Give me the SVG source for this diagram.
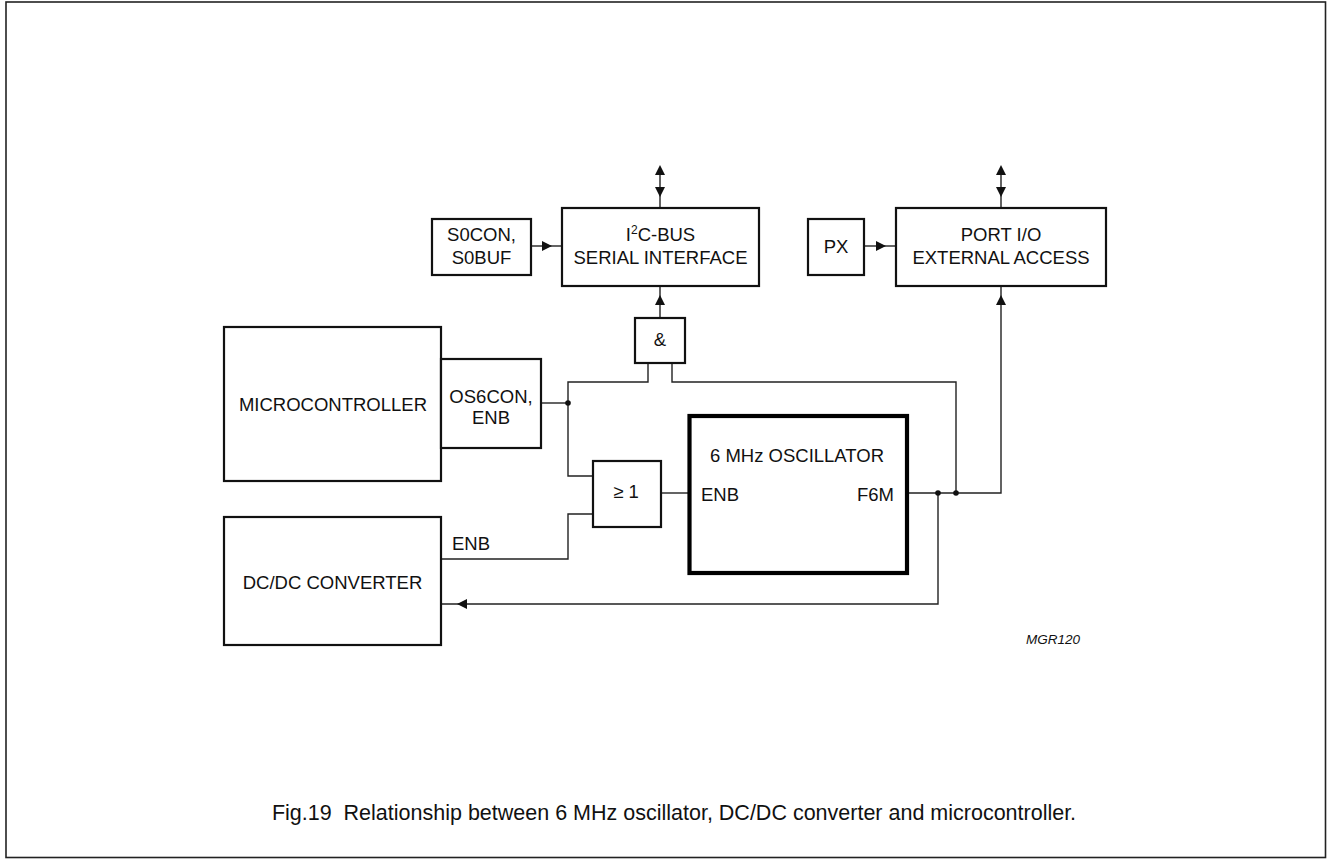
<svg xmlns="http://www.w3.org/2000/svg" width="1327" height="859" viewBox="0 0 1327 859">
<style>
text{font-family:"Liberation Sans",Arial,sans-serif;fill:#111;}
.lbl{font-size:18.5px;}
.box{fill:#fff;stroke:#111;stroke-width:2.2;}
.osc{fill:#fff;stroke:#000;stroke-width:4.2;}
.wire{fill:none;stroke:#222;stroke-width:1.4;}
.head{fill:#111;stroke:none;}
.dot{fill:#111;}
</style>
<rect x="0" y="0" width="1327" height="859" fill="#fff"/>
<rect x="6" y="2" width="1319.5" height="855.5" fill="none" stroke="#222" stroke-width="1.6"/>

<g id="connectors">
  <!-- bidirectional I2C -->
  <path class="wire" d="M660,168 V208"/>
  <polygon class="head" points="660,165 655,175 665,175"/>
  <polygon class="head" points="660,197 655,187 665,187"/>
  <!-- bidirectional Port -->
  <path class="wire" d="M1001,168 V208"/>
  <polygon class="head" points="1001,165 996,175 1006,175"/>
  <polygon class="head" points="1001,197 996,187 1006,187"/>
  <!-- S0CON -> I2C -->
  <path class="wire" d="M531,246 H562"/>
  <polygon class="head" points="552,246 542,241 542,251"/>
  <!-- PX -> Port -->
  <path class="wire" d="M864,246 H896"/>
  <polygon class="head" points="886,246 876,241 876,251"/>
  <!-- & -> I2C -->
  <path class="wire" d="M660,318 V286"/>
  <polygon class="head" points="660,295 655,305 665,305"/>
  <!-- OS6CON -> & left input and OR -->
  <path class="wire" d="M541,403 H568"/>
  <path class="wire" d="M648,363 V382 H568 V476 H593"/>
  <!-- & right input from F6M -->
  <path class="wire" d="M672,363 V382 H956 V493"/>
  <!-- DC/DC ENB -> OR -->
  <path class="wire" d="M441,559 H568 V514 H593"/>
  <!-- OR -> oscillator ENB -->
  <path class="wire" d="M661,493 H689"/>
  <!-- F6M -> Port -->
  <path class="wire" d="M907,493 H1001 V286"/>
  <polygon class="head" points="1001,295 996,305 1006,305"/>
  <!-- F6M -> DC/DC -->
  <path class="wire" d="M938,493 V604 H441"/>
  <polygon class="head" points="457,604 467,599 467,609"/>
  <circle class="dot" cx="568" cy="403" r="2.8"/>
  <circle class="dot" cx="938" cy="493" r="2.8"/>
  <circle class="dot" cx="956" cy="493" r="2.8"/>
</g>

<g id="s0con">
  <rect class="box" x="432" y="219" width="99" height="56"/>
  <text class="lbl" x="481.5" y="241" text-anchor="middle">S0CON,</text>
  <text class="lbl" x="481.5" y="264" text-anchor="middle">S0BUF</text>
</g>
<g id="i2c">
  <rect class="box" x="562" y="208" width="197" height="78"/>
  <text class="lbl" x="660.5" y="241" text-anchor="middle">I<tspan font-size="12" dy="-7">2</tspan><tspan dy="7">C-BUS</tspan></text>
  <text class="lbl" x="660.5" y="264" text-anchor="middle">SERIAL INTERFACE</text>
</g>
<g id="px">
  <rect class="box" x="808" y="219" width="56" height="56"/>
  <text class="lbl" x="836" y="253" text-anchor="middle">PX</text>
</g>
<g id="port">
  <rect class="box" x="896" y="208" width="210" height="78"/>
  <text class="lbl" x="1001" y="241" text-anchor="middle">PORT I/O</text>
  <text class="lbl" x="1001" y="264" text-anchor="middle">EXTERNAL ACCESS</text>
</g>
<g id="and">
  <rect class="box" x="635" y="318" width="50" height="45"/>
  <text class="lbl" x="660" y="346" text-anchor="middle" font-size="16">&amp;</text>
</g>
<g id="micro">
  <rect class="box" x="224" y="327" width="217" height="154"/>
  <text class="lbl" x="333" y="411" text-anchor="middle">MICROCONTROLLER</text>
</g>
<g id="os6con">
  <rect class="box" x="441" y="359" width="100" height="89"/>
  <text class="lbl" x="491" y="403" text-anchor="middle">OS6CON,</text>
  <text class="lbl" x="491" y="424" text-anchor="middle">ENB</text>
</g>
<g id="or">
  <rect class="box" x="593" y="461" width="68" height="66"/>
  <text class="lbl" x="626" y="498" text-anchor="middle">≥ 1</text>
</g>
<g id="osc">
  <rect class="osc" x="689.5" y="416" width="217.5" height="157"/>
  <text class="lbl" x="797" y="462" text-anchor="middle">6 MHz OSCILLATOR</text>
  <text class="lbl" x="701" y="501">ENB</text>
  <text class="lbl" x="894" y="501" text-anchor="end">F6M</text>
</g>
<g id="dcdc">
  <rect class="box" x="224" y="517" width="217" height="128"/>
  <text class="lbl" x="332.5" y="589" text-anchor="middle">DC/DC CONVERTER</text>
  <text class="lbl" x="452" y="550">ENB</text>
</g>
<text x="1026" y="644" font-size="13.5" font-style="italic">MGR120</text>
<text x="674" y="820" font-size="21.5" text-anchor="middle" xml:space="preserve" style="white-space:pre">Fig.19  Relationship between 6 MHz oscillator, DC/DC converter and microcontroller.</text>
</svg>
